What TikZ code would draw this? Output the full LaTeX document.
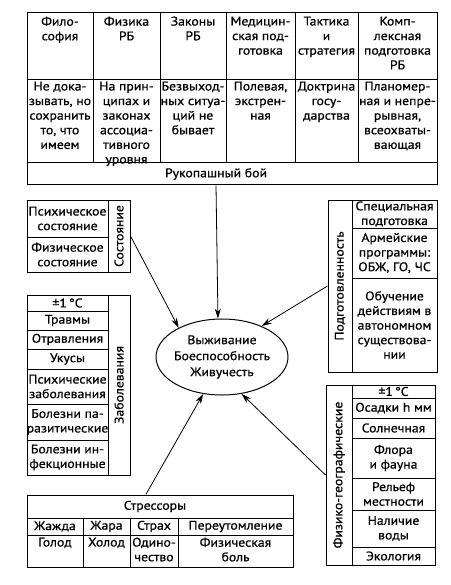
\documentclass[tikz,border=0pt]{standalone}
\usepackage{fontspec}
\setmainfont{PT Sans}[FakeStretch=1.1,FakeBold=0.7]
\usetikzlibrary{fit,arrows.meta,shapes.geometric,calc}
\begin{document}
\begin{tikzpicture}[x=1pt,y=-1pt,
  cellbox/.style={draw, line width=1pt, inner sep=0pt},
  txt/.style={inner sep=0pt, align=center, font=\fontsize{12.5}{14.6}\selectfont},
  rot/.style={txt, rotate=90},
  arr/.style={-{Stealth[length=10pt,width=6pt]}, line width=0.8pt}]
\useasboundingbox (0,0) rectangle (450,585);
\newcommand\cbox[5]{\node[cellbox, fit={(#2,#3) (#4,#5)}] (#1) {};}
% ---------- top table ----------
\cbox{h1}{27}{13}{93}{80}
\cbox{h2}{93}{13}{160}{80}
\cbox{h3}{160}{13}{226}{80}
\cbox{h4}{226}{13}{295}{80}
\cbox{h5}{295}{13}{358}{80}
\cbox{h6}{358}{13}{437}{80}
\cbox{c1}{27}{80}{93}{163}
\cbox{c2}{93}{80}{160}{163}
\cbox{c3}{160}{80}{226}{163}
\cbox{c4}{226}{80}{295}{163}
\cbox{c5}{295}{80}{358}{163}
\cbox{c6}{358}{80}{437}{163}
\cbox{rb}{27}{163}{437}{185}
\node[txt, anchor=north] (h1t) at ([yshift=-4pt]h1.north) {Фило-\\софия};
\node[txt, anchor=north] (h2t) at ([yshift=-4pt]h2.north) {Физика\\РБ};
\node[txt, anchor=north] (h3t) at ([yshift=-4pt]h3.north) {Законы\\РБ};
\node[txt, anchor=north] (h4t) at ([yshift=-4pt]h4.north) {Медицин-\\ская под-\\готовка};
\node[txt, anchor=north] (h5t) at ([yshift=-4pt]h5.north) {Тактика\\и\\стратегия};
\node[txt, anchor=north] (h6t) at ([yshift=-4pt]h6.north) {Комп-\\лексная\\подготовка\\РБ};
\node[txt, anchor=north] (c1t) at ([yshift=-2pt]c1.north) {Не дока-\\зывать, но\\сохранить\\то, что\\имеем};
\node[txt, anchor=north] (c2t) at ([yshift=-2pt]c2.north) {На прин-\\ципах и\\законах\\ассоциа-\\тивного\\уровня};
\node[txt, anchor=north] (c3t) at ([yshift=-2pt]c3.north) {Безвыход-\\ных ситуа-\\ций не\\бывает};
\node[txt, anchor=north] (c4t) at ([yshift=-2pt]c4.north) {Полевая,\\экстрен-\\ная};
\node[txt, anchor=north] (c5t) at ([yshift=-2pt]c5.north) {Доктрина\\госу-\\дарства};
\node[txt, anchor=north] (c6t) at ([yshift=-2pt]c6.north) {Планомер-\\ная и непре-\\рывная,\\всеохваты-\\вающая};
\node[txt] (rbt) at (216,174) {Рукопашный бой};
% ---------- ellipse ----------
\node[draw, ellipse, line width=1pt, minimum width=132pt, minimum height=76pt, inner sep=0pt] (ell) at (222,357) {};
\node[txt, font=\fontsize{12.5}{16}\selectfont] (ellt) at (ell.center) {Выживание\\Боеспособность\\Живучесть};
% ---------- Состояние ----------
\cbox{sost}{27}{200}{130}{272}
\cbox{s1}{27}{200}{108}{237}
\cbox{s2}{27}{237}{108}{272}
\cbox{sl}{108}{200}{130}{272}
\node[txt] (s1t) at (s1.center) {Психическое\\состояние};
\node[txt] (s2t) at (s2.center) {Физическое\\состояние};
\node[rot] (slt) at (sl.center) {Состояние};
% ---------- Заболевания ----------
\cbox{zab}{27}{295}{130}{475}
\cbox{zl}{108}{295}{130}{475}
\cbox{z1}{27}{295}{108}{311}
\cbox{z2}{27}{311}{108}{330}
\cbox{z3}{27}{330}{108}{349}
\cbox{z4}{27}{349}{108}{369}
\cbox{z5}{27}{369}{108}{404}
\cbox{z6}{27}{404}{108}{440}
\cbox{z7}{27}{440}{108}{475}
\node[txt] (z1t) at (z1.center) {±1\,°C};
\node[txt] (z2t) at (z2.center) {Травмы};
\node[txt] (z3t) at (z3.center) {Отравления};
\node[txt] (z4t) at (z4.center) {Укусы};
\node[txt] (z5t) at (z5.center) {Психические\\заболевания};
\node[txt] (z6t) at (z6.center) {Болезни па-\\разитические};
\node[txt] (z7t) at (z7.center) {Болезни ин-\\фекционные};
\node[rot] (zlt) at (zl.center) {Заболевания};
% ---------- Подготовленность ----------
\cbox{podg}{328}{200}{437}{372}
\cbox{pl}{328}{200}{352}{372}
\cbox{p1}{352}{200}{437}{228}
\cbox{p2}{352}{228}{437}{278}
\cbox{p3}{352}{278}{437}{372}
\node[txt] (p1t) at (p1.center) {Специальная\\подготовка};
\node[txt] (p2t) at (p2.center) {Армейские\\программы:\\ОБЖ, ГО, ЧС};
\node[txt] (p3t) at (p3.center) {Обучение\\действиям в\\автономном\\существова-\\нии};
\node[rot] (plt) at (pl.center) {Подготовленность};
% ---------- Физико-географические ----------
\cbox{fg}{326}{385}{435}{565}
\cbox{fl}{326}{385}{352}{565}
\cbox{f1}{352}{385}{435}{398}
\cbox{f2}{352}{398}{435}{418}
\cbox{f3}{352}{418}{435}{438}
\cbox{f4}{352}{438}{435}{478}
\cbox{f5}{352}{478}{435}{510}
\cbox{f6}{352}{510}{435}{547}
\cbox{f7}{352}{547}{435}{565}
\node[txt] (f1t) at (f1.center) {±1\,°C};
\node[txt] (f2t) at (f2.center) {Осадки h мм};
\node[txt] (f3t) at (f3.center) {Солнечная};
\node[txt] (f4t) at (f4.center) {Флора\\и фауна};
\node[txt] (f5t) at (f5.center) {Рельеф\\местности};
\node[txt] (f6t) at (f6.center) {Наличие\\воды};
\node[txt] (f7t) at (f7.center) {Экология};
\node[rot] (flt) at (fl.center) {Физико-географические};
% ---------- Стрессоры ----------
\cbox{strs}{27}{495}{293}{567}
\cbox{st0}{27}{495}{293}{518}
\cbox{a1}{27}{518}{83}{535}
\cbox{a2}{83}{518}{130}{535}
\cbox{a3}{130}{518}{178}{535}
\cbox{a4}{178}{518}{293}{535}
\cbox{b1}{27}{535}{83}{567}
\cbox{b2}{83}{535}{130}{567}
\cbox{b3}{130}{535}{178}{567}
\cbox{b4}{178}{535}{293}{567}
\node[txt] (st0t) at (155,506.5) {Стрессоры};
\node[txt] (a1t) at (a1.center) {Жажда};
\node[txt] (a2t) at (a2.center) {Жара};
\node[txt] (a3t) at (a3.center) {Страх};
\node[txt] (a4t) at (a4.center) {Переутомление};
\node[txt, anchor=north] (b1t) at ([yshift=-3pt]b1.north) {Голод};
\node[txt, anchor=north] (b2t) at ([yshift=-3pt]b2.north) {Холод};
\node[txt, anchor=north] (b3t) at ([yshift=-3pt]b3.north) {Одино-\\чество};
\node[txt, anchor=north] (b4t) at ([yshift=-3pt]b4.north) {Физическая\\боль};
% ---------- connectors ----------
\draw[arr] (rb.south -| rbt) -- (ell.96);
\draw[arr] (sost.east) -- (ell.146);
\draw[arr] (podg.west) -- (ell.38);
\draw[arr] ($(strs.north west)!0.447!(strs.north east)$) -- (ell.243);
\draw[arr] (fg.west) -- (ell.298);
\end{tikzpicture}
\end{document}
